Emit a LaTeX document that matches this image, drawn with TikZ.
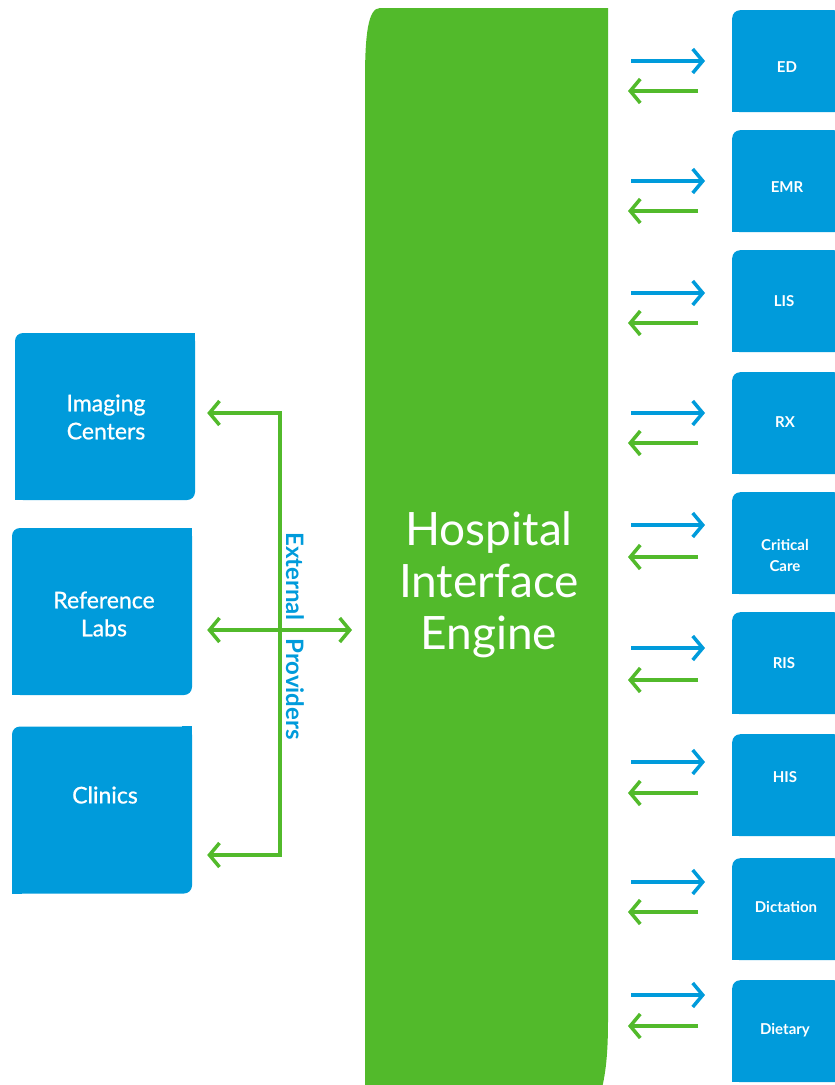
\documentclass[tikz,border=0pt]{standalone}
\usepackage{fontspec}
\setmainfont{Lato}
\newfontfamily\latomed[FakeBold=0.8]{Lato}
\usetikzlibrary{arrows.meta}
\definecolor{hgreen}{HTML}{52BA2B}
\definecolor{hblue}{HTML}{009BDB}
\begin{document}
\begin{tikzpicture}[x=1pt,y=-1pt,
  lbox/.style={fill=hblue,rounded corners=8pt,minimum width=180pt,minimum height=167pt,inner sep=0pt},
  rbox/.style={fill=hblue,rounded corners=8pt,minimum width=110pt,minimum height=102pt,inner sep=0pt},
  biglbl/.style={text=white,align=center,font=\fontsize{46}{52}\selectfont},
  llbl/.style={text=white,align=center,font=\latomed\fontsize{23}{28}\selectfont},
  rlbl/.style={text=white,align=center,font=\bfseries\fontsize{15}{21}\selectfont},
  garr/.style={draw=hgreen,line width=3.5pt,-{Straight Barb[length=10pt,width=24pt]}},
  barr/.style={draw=hblue,line width=3.5pt,-{Straight Barb[length=10pt,width=24pt]}},
  gline/.style={draw=hgreen,line width=3.5pt},
  sidelbl/.style={text=hblue,rotate=-90,font=\bfseries\fontsize{24}{28}\selectfont}
]
\useasboundingbox (0,0) rectangle (835,1085);
\begin{scope}
\clip (0,0) rectangle (835,1085);
% engine shape
\fill[hgreen] (365,1100) -- (365,80) .. controls (365,35) and (368,8) .. (380,8)
  -- (608,8) -- (608,1020) .. controls (608,1060) and (605,1078) .. (599,1100) -- cycle;
\node[biglbl] (engine) at (489,585) {Hospital\\Interface\\Engine};

% left boxes
\node[lbox] (img) at (105,416.5) {};
\node[lbox] (ref) at (102,611.5) {};
\node[lbox] (cli) at (102,810) {};
\foreach \b in {img,ref,cli}{
  \fill[hblue] (\b.north east) rectangle ++(-10,10);
  \fill[hblue] (\b.south west) rectangle ++(10,-10);
}
\node[llbl] (imgL) at (106,417) {Imaging\\Centers};
\node[llbl] (refL) at (104,614) {Reference\\Labs};
\node[llbl] (cliL) at (105,795) {Clinics};

% right boxes
\foreach \n/\t in {ed/10,emr/130,lis/250,rx/372,cc/492,ris/612,his/734,dic/858,die/980}{
  \node[rbox,anchor=north west] (\n) at (732,\t) {};
  \fill[hblue] (\n.south west) rectangle ++(10,-10);
}
\node[rlbl] (edL) at (787,67) {ED};
\node[rlbl] (emrL) at (787,187) {EMR};
\node[rlbl] (lisL) at (784,301) {LIS};
\node[rlbl] (rxL) at (785,422) {RX};
\node[rlbl] (ccL) at (785,555) {Critical\\Care};
\node[rlbl] (risL) at (784,663) {RIS};
\node[rlbl] (hisL) at (785,777) {HIS};
\node[rlbl] (dicL) at (786,907) {Dictation};
\node[rlbl] (dieL) at (785,1030) {Dietary};

% right arrows
\foreach \n/\yb/\yg in {ed/61/91,emr/181/211,lis/293/323,rx/413/443,cc/525/557,ris/648/680,his/762/793,dic/882/912,die/995/1026}{
  \coordinate (\n b) at (631,\yb);
  \coordinate (\n g) at (698,\yg);
  \draw[barr] (\n b) -- ([xshift=-27pt]\n.west |- \n b);
  \draw[garr] (\n g) -- (628,\yg);
}

% external providers bracket
\coordinate (top) at (280,413);
\coordinate (mid) at (280,630);
\coordinate (bot) at (280,855);
\coordinate (eng) at (352,630);
\draw[gline] ([yshift=1.75pt]top) -- ([yshift=-1.75pt]bot);
\draw[garr] ([xshift=1.75pt]top) -- ([xshift=12pt]img.east |- top);
\draw[garr] ([xshift=1.75pt]bot) -- ([xshift=15pt]cli.east |- bot);
\draw[garr,{Straight Barb[length=10pt,width=24pt]}-{Straight Barb[length=10pt,width=24pt]}] ([xshift=15pt]ref.east |- mid) -- (eng);
\node[sidelbl] (ext) at (295,636) {External\ \ \ Providers};
\end{scope}
\end{tikzpicture}
\end{document}
